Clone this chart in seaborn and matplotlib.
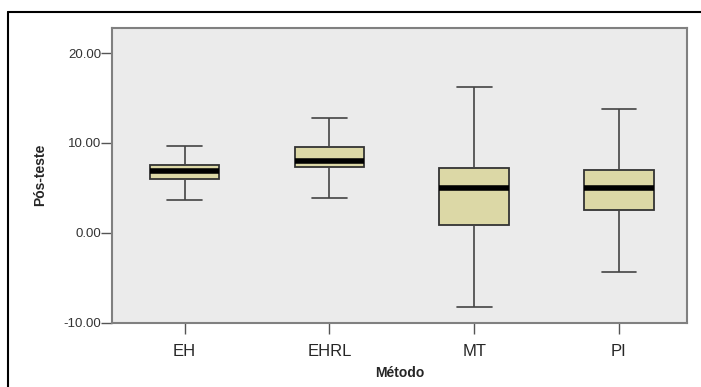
import pandas as pd
import matplotlib
matplotlib.use("Agg")
import matplotlib.pyplot as plt
import seaborn as sns

# five-number summaries (min, Q1, median, Q3, max)
metodos = ['EH', 'EHRL', 'MT', 'PI']
eh = [3.7, 6.0, 6.9, 7.5, 9.7]
ehrl = [3.9, 7.3, 8.0, 9.6, 12.8]
mt = [-8.2, 0.9, 5.0, 7.2, 16.2]
pi = [-4.3, 2.5, 5.0, 7.0, 13.8]

df = pd.DataFrame({
    'Método': [m for m, v in zip(metodos, [eh, ehrl, mt, pi]) for _ in v],
    'Pós-teste': eh + ehrl + mt + pi,
})

sns.set_style("white")
plt.rcParams['font.family'] = ['Liberation Sans', 'DejaVu Sans']

fig = plt.figure(figsize=(7.01, 3.87), dpi=100)
ax = fig.add_axes([0.16, 0.166, 0.82, 0.762])

edge = '#333333'
sns.boxplot(data=df, x='Método', y='Pós-teste', order=metodos, ax=ax,
            whis=(0, 100), width=0.48, color='#dcd8a6', saturation=1,
            linewidth=1.3, linecolor=edge,
            medianprops=dict(color='black', linewidth=4),
            whiskerprops=dict(color='#444444', linewidth=1.2),
            capprops=dict(color='#444444', linewidth=1.2))

ax.set_facecolor('#ebebeb')
ax.set_ylim(-10, 22.8)
ax.set_xlim(-0.5, 3.47)
ax.set_yticks([-10, 0, 10, 20])
ax.set_yticklabels(['-10.00', '0.00', '10.00', '20.00'], fontsize=9.5, color='#333333')
ax.tick_params(axis='y', length=8, width=1, color='#555555', pad=0, left=True)
ax.tick_params(axis='x', length=8, width=1, color='#555555', labelsize=12, pad=7, bottom=True)
for s in ax.spines.values():
    s.set_color('#808080')
    s.set_linewidth(1.5)

ax.set_xlabel('Método', fontsize=10, fontweight='bold', labelpad=5)
ax.set_ylabel('Pós-teste', fontsize=10, fontweight='bold', labelpad=12)

# thin black frame around the chart, as in the exported image
fig.add_artist(plt.Line2D([0.011, 1.0], [0.970, 0.970], color='black', lw=1.5))
fig.add_artist(plt.Line2D([0.011, 0.011], [0.0, 0.970], color='black', lw=1.5))

fig.savefig('out.png', dpi=100)
